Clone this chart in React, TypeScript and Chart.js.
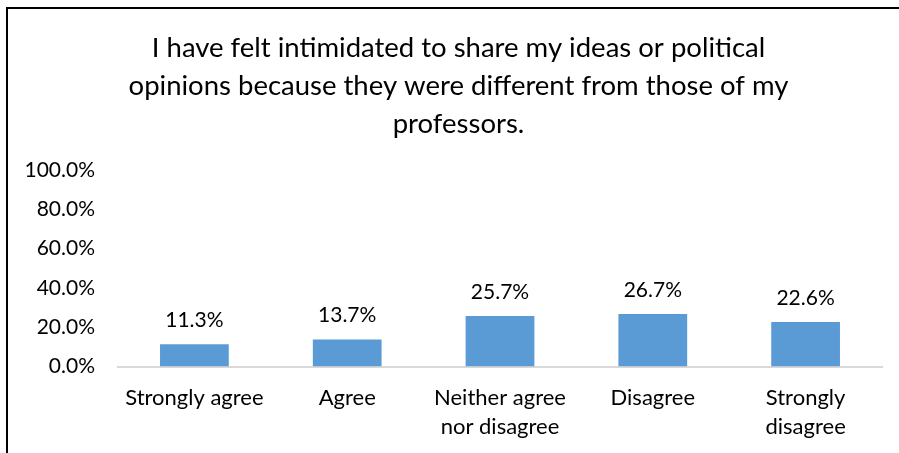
import React, { useEffect, useRef } from "react";
import { Chart, registerables } from "chart.js";

Chart.register(...registerables);

const TITLE_LINES = [
  "I have felt intimidated to share my ideas or political",
  "opinions because they were different from those of my",
  "professors.",
];

const CATEGORIES: string[][] = [
  ["Strongly agree"],
  ["Agree"],
  ["Neither agree", "nor disagree"],
  ["Disagree"],
  ["Strongly", "disagree"],
];

const VALUES = [0.113, 0.137, 0.257, 0.267, 0.226];

const Y_MIN = 0;
const Y_MAX = 1;
const Y_STEP = 0.2;

const FONT = "Lato";
const BAR_COLOR = "#5B9BD5";

const pct = (v: number) => (v * 100).toFixed(1) + "%";

const valueLabels = {
  id: "valueLabels",
  afterDatasetsDraw(chart: any) {
    const ctx = chart.ctx;
    const meta = chart.getDatasetMeta(0);
    ctx.save();
    ctx.font = `21px ${FONT}`;
    ctx.fillStyle = "#000";
    ctx.textAlign = "center";
    ctx.textBaseline = "middle";
    meta.data.forEach((el: any, i: number) => {
      ctx.fillText(pct(VALUES[i]), el.x, el.y - 24);
    });
    ctx.restore();
  },
};

// Title drawn centred on the (wider, off-screen) chart frame rather than the canvas
const titleLines = {
  id: "titleLines",
  afterDraw(chart: any) {
    const ctx = chart.ctx;
    const cx = (chart.chartArea.right + 27) / 2;
    ctx.save();
    ctx.font = `27.5px ${FONT}`;
    ctx.fillStyle = "#000";
    ctx.textAlign = "center";
    ctx.textBaseline = "middle";
    TITLE_LINES.forEach((line, i) => {
      ctx.fillText(line, cx, 39 + i * 38);
    });
    ctx.restore();
  },
};

export default function App() {
  const ref = useRef<HTMLCanvasElement | null>(null);

  useEffect(() => {
    if (!ref.current) return;
    const chart = new Chart(ref.current, {
      type: "bar",
      data: {
        labels: CATEGORIES,
        datasets: [
          {
            data: VALUES,
            backgroundColor: BAR_COLOR,
            categoryPercentage: 1,
            barPercentage: 0.45,
          },
        ],
      },
      plugins: [valueLabels, titleLines],
      options: {
        animation: false,
        responsive: true,
        maintainAspectRatio: false,
        layout: { padding: { left: 0, right: 17, top: 161, bottom: 0 } },
        plugins: {
          legend: { display: false },
          tooltip: { enabled: false },
          title: { display: false },
        },
        scales: {
          x: {
            grid: { display: false, drawTicks: false },
            border: { display: true, color: "#D9D9D9", width: 2 },
            ticks: {
              color: "#000",
              font: { family: FONT, size: 22, lineHeight: 29 / 22 },
              padding: 17,
              maxRotation: 0,
              minRotation: 0,
              autoSkip: false,
            },
            afterFit: (s: any) => {
              s.height = 86.5;
            },
          },
          y: {
            min: Y_MIN,
            max: Y_MAX,
            grid: { display: false, drawTicks: false },
            border: { display: false },
            ticks: {
              stepSize: Y_STEP,
              color: "#000",
              font: { family: FONT, size: 21 },
              padding: 23,
              callback: (v: any) => pct(Number(v)),
            },
            afterFit: (s: any) => {
              s.width = 110;
            },
          },
        },
      },
    });
    return () => chart.destroy();
  }, []);

  return (
    <div
      style={{
        position: "fixed",
        left: 0,
        top: 0,
        width: 899,
        height: 453,
        background: "#fff",
        overflow: "hidden",
      }}
    >
      <div
        style={{
          position: "absolute",
          left: 6,
          top: 7,
          width: 1000,
          height: 1000,
          borderTop: "2px solid #000",
          borderLeft: "2px solid #000",
        }}
      />
      <div style={{ position: "absolute", left: 8, top: 9, width: 891, height: 444 }}>
        <canvas ref={ref} />
      </div>
    </div>
  );
}
